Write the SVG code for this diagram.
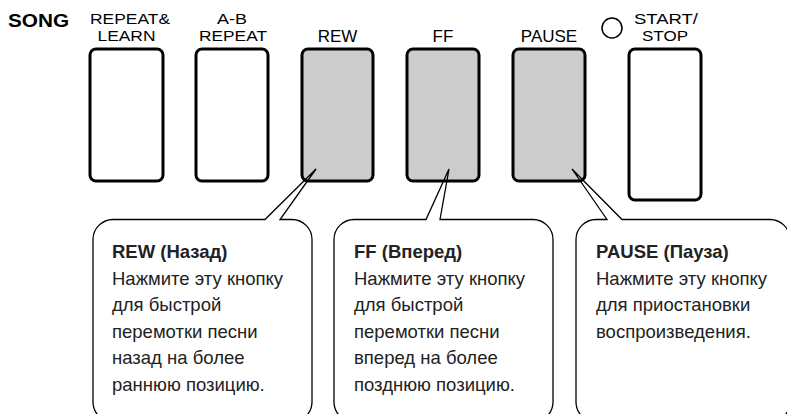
<svg xmlns="http://www.w3.org/2000/svg" width="787" height="414" viewBox="0 0 787 414">
<style>
.bg{fill:#ffffff}
.btn{fill:#ffffff;stroke:#000;stroke-width:3}
.btn.g{fill:#cccccc}
.lbl{font-family:"Liberation Sans",Arial,sans-serif;font-size:17px;fill:#000;text-anchor:middle}
.lbl2{font-family:"Liberation Sans",Arial,sans-serif;font-size:15px;fill:#000;text-anchor:middle}
.song{font-family:"Liberation Sans",Arial,sans-serif;font-size:18px;font-weight:bold;fill:#000}
.call{fill:none;stroke:#000;stroke-width:1.3;stroke-linejoin:miter}
.t{font-family:"Liberation Sans",Arial,sans-serif;font-size:18.5px;fill:#222}
.tb{font-weight:bold}
</style>
<rect class="bg" x="0" y="0" width="787" height="414"/>
<text class="song" x="8" y="27" textLength="61" lengthAdjust="spacingAndGlyphs">SONG</text>

<g id="btn-repeat-learn">
<rect class="btn" x="90" y="49" width="73" height="132" rx="6"/>
<text class="lbl2" x="130" y="23.5" textLength="80" lengthAdjust="spacingAndGlyphs">REPEAT&amp;</text>
<text class="lbl2" x="126.5" y="41" textLength="58" lengthAdjust="spacingAndGlyphs">LEARN</text>
</g>
<g id="btn-ab-repeat">
<rect class="btn" x="196" y="49" width="72" height="132" rx="6"/>
<text class="lbl2" x="232" y="23.5" textLength="30" lengthAdjust="spacingAndGlyphs">A-B</text>
<text class="lbl2" x="233" y="41" textLength="68" lengthAdjust="spacingAndGlyphs">REPEAT</text>
</g>
<g id="btn-rew">
<rect class="btn g" x="302" y="49" width="71" height="132" rx="6"/>
<text class="lbl" x="337.5" y="42">REW</text>
</g>
<g id="btn-ff">
<rect class="btn g" x="407" y="49" width="72" height="132" rx="6"/>
<text class="lbl" x="443" y="42">FF</text>
</g>
<g id="btn-pause">
<rect class="btn g" x="513" y="49" width="72" height="132" rx="6"/>
<text class="lbl" x="549" y="42">PAUSE</text>
</g>
<g id="btn-start-stop">
<rect class="btn" x="629" y="49" width="72" height="151" rx="6"/>
<circle cx="612" cy="28" r="10" fill="none" stroke="#000" stroke-width="1.5"/>
<text class="lbl2" x="666" y="23.5" textLength="64" lengthAdjust="spacingAndGlyphs">START/</text>
<text class="lbl2" x="665" y="41" textLength="46" lengthAdjust="spacingAndGlyphs">STOP</text>
</g>

<g id="connectors">
<path class="call" d="M265,219.5 H113 A20,20 0 0 0 93,239.5 V402 A20,20 0 0 0 113,422 H292 A20,20 0 0 0 312,402 V239.5 A20,20 0 0 0 292,219.5 H280 L316,169 Z"/>
<path class="call" d="M426,219.5 H354 A20,20 0 0 0 334,239.5 V402 A20,20 0 0 0 354,422 H533 A20,20 0 0 0 553,402 V239.5 A20,20 0 0 0 533,219.5 H440 L449,169 Z"/>
<path class="call" d="M607,219.5 H596 A20,20 0 0 0 576,239.5 V402 A20,20 0 0 0 596,422 H770 A20,20 0 0 0 790,402 V239.5 A20,20 0 0 0 770,219.5 H622 L572,169 Z"/>
</g>

<g id="note-rew">
<text class="t tb" x="112" y="258">REW (Назад)</text>
<text class="t" x="112" y="284.5">Нажмите эту кнопку</text>
<text class="t" x="112" y="311">для быстрой</text>
<text class="t" x="112" y="337.5">перемотки песни</text>
<text class="t" x="112" y="364">назад на более</text>
<text class="t" x="112" y="390.5">раннюю позицию.</text>
</g>
<g id="note-ff">
<text class="t tb" x="354" y="258">FF (Вперед)</text>
<text class="t" x="354" y="284.5">Нажмите эту кнопку</text>
<text class="t" x="354" y="311">для быстрой</text>
<text class="t" x="354" y="337.5">перемотки песни</text>
<text class="t" x="354" y="364">вперед на более</text>
<text class="t" x="354" y="390.5">позднюю позицию.</text>
</g>
<g id="note-pause">
<text class="t tb" x="596" y="258">PAUSE (Пауза)</text>
<text class="t" x="596" y="284.5">Нажмите эту кнопку</text>
<text class="t" x="596" y="311">для приостановки</text>
<text class="t" x="596" y="337.5">воспроизведения.</text>
</g>
</svg>
